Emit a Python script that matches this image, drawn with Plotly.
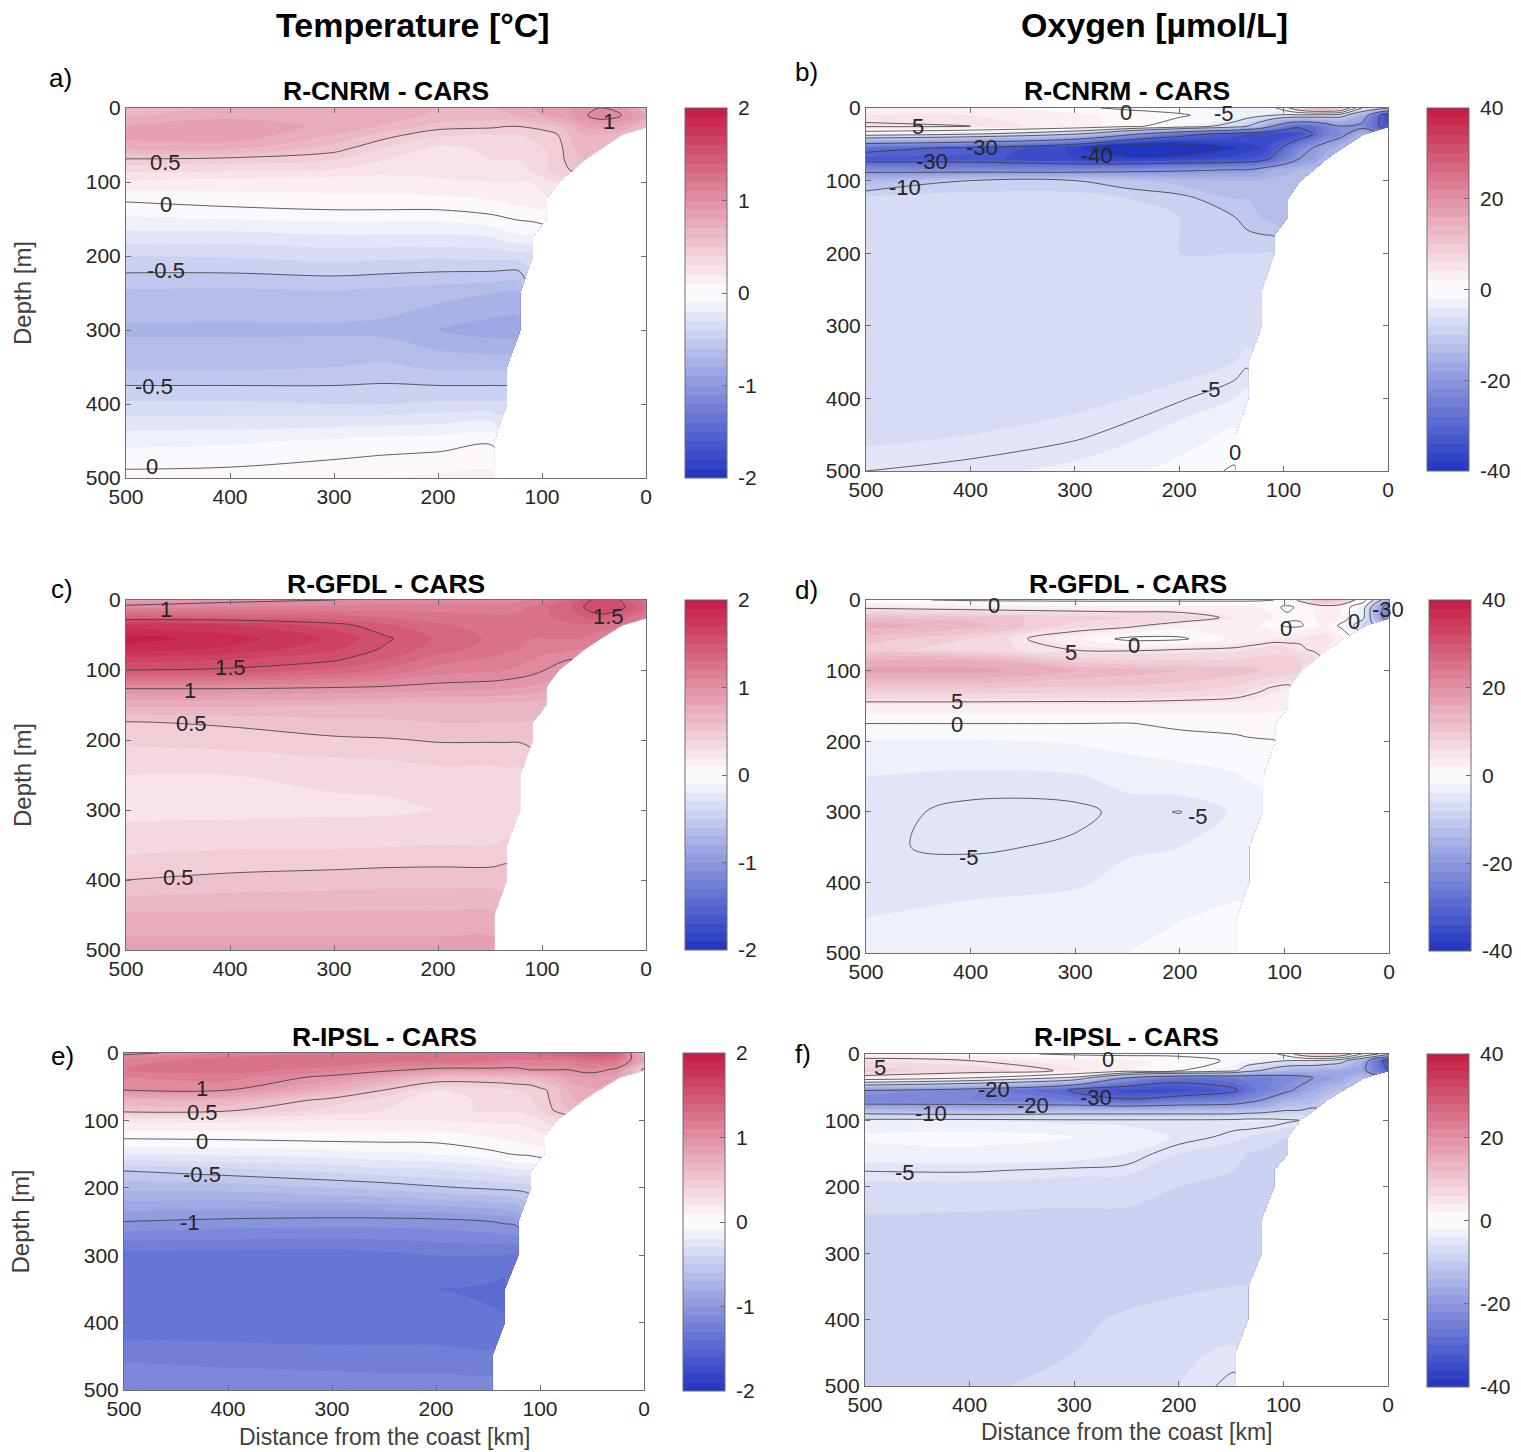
import plotly.graph_objects as go
import math

W, H = 1521, 1452
nan = math.nan

distance_km = [500, 400, 300, 250, 200, 147, 135, 122, 110, 97, 85, 72, 60, 45, 25, 0]
depth_m = [0, 10, 25, 36, 55, 70, 85, 100, 125, 150, 175, 200, 250, 300, 350, 400, 450, 500]

# Rows follow depth_m; a short row stops at the coast, the rest is land.
t_cnrm = [
 [.65,.72,.72,.72,.70,.70,.72,.75,.80,.85,.85,.90,.95,1.0,.95,.70],
 [.68,.78,.78,.75,.68,.66,.68,.72,.75,.80,.85,.90,.97,1.08,1.02,.80],
 [.80,.85,.78,.68,.55,.52,.50,.50,.52,.55,.60,.70,.80,.85,.80,.60],
 [.85,.88,.70,.55,.42,.40,.40,.40,.42,.45,.50,.62,.70,.70,.65],
 [.72,.72,.55,.38,.27,.32,.33,.33,.36,.40,.45,.58,.65,.65],
 [.48,.45,.40,.30,.20,.30,.30,.30,.34,.38,.45,.55,.60],
 [.32,.30,.28,.24,.27,.28,.28,.27,.30,.38,.47,.50],
 [.18,.15,.13,.13,.16,.20,.20,.20,.20,.25,.30],
 [.01,.05,.08,.08,.08,.10,.12,.14,.15,.18],
 [-.12,-.10,-.08,-.08,-.08,-.03,-.01,.01,.02,.04],
 [-.25,-.25,-.22,-.22,-.22,-.20,-.15,-.13,-.12],
 [-.40,-.39,-.36,-.37,-.38,-.36,-.36,-.35,-.35],
 [-.62,-.63,-.62,-.64,-.66,-.70,-.72,-.72],
 [-.72,-.72,-.72,-.73,-.80,-.85,-.85,-.85],
 [-.62,-.62,-.60,-.58,-.62,-.62,-.62],
 [-.38,-.38,-.40,-.40,-.38,-.38,-.38],
 [-.13,-.12,-.08,-.06,-.05,-.02],
 [.04,.05,.08,.10,.12,.13],
]
o_cnrm = [
 [3,3,.5,-.5,-1.5,-3,-3,-2,-1,4,10,14,15,12,-5,-10],
 [4,4,2.5,1.5,.5,-2,-3,-4,-5,-6,-6,-6,-7,-8,-15,-36],
 [5.5,5,3,1,-2,-7,-10,-14,-20,-26,-29,-28,-24,-20,-22,-34],
 [-3,-5,-10,-18,-27,-33,-34,-35,-36,-36,-34,-30,-25,-22,-15],
 [-28,-31,-37,-46,-45,-38.5,-37,-36,-33,-28,-23,-20,-17,-14],
 [-33,-33,-36,-37,-36,-35,-34,-33,-29,-24,-20,-18,-15],
 [-22,-23,-23,-22,-21,-20,-20,-18,-16,-15,-14,-13],
 [-14,-10,-10,-11.5,-13,-14,-14,-14,-13,-13,-12],
 [-7,-6.8,-6.8,-8,-9,-12,-12,-12,-13,-14],
 [-6.5,-6.5,-6.5,-7,-8,-10,-11,-12,-13,-14],
 [-6.5,-6.5,-6.5,-7,-8,-9,-9.6,-9.9,-10.1],
 [-7,-6.8,-6.5,-7,-8,-8,-8,-8,-8],
 [-7.8,-7.6,-7.6,-7.6,-7.6,-7.6,-7.6,-7.6],
 [-8,-7.8,-7.6,-7.6,-7.5,-7.2,-7,-7],
 [-8,-7.6,-7.6,-7.4,-7,-6,-5.3],
 [-7,-7,-6.5,-6,-5.2,-4,-3.5],
 [-6.5,-6,-5.3,-4.5,-3.2,-1.5],
 [-5,-4.5,-3.5,-2.5,-1.2,.3],
]
t_gfdl = [
 [.85,.95,1.0,1.02,1.05,1.05,1.05,1.08,1.1,1.15,1.25,1.3,1.45,1.55,1.5,1.2],
 [1.05,1.1,1.12,1.15,1.15,1.15,1.15,1.18,1.22,1.28,1.35,1.4,1.5,1.6,1.55,1.3],
 [1.40,1.40,1.35,1.3,1.25,1.22,1.22,1.22,1.25,1.28,1.32,1.35,1.4,1.45,1.38,1.15],
 [1.75,1.7,1.55,1.42,1.32,1.25,1.25,1.25,1.25,1.25,1.25,1.28,1.28,1.25,1.2],
 [1.95,1.85,1.68,1.52,1.38,1.28,1.25,1.22,1.2,1.2,1.2,1.2,1.2,1.15],
 [1.85,1.78,1.62,1.48,1.35,1.25,1.22,1.2,1.18,1.15,1.15,1.12,1.1],
 [1.65,1.6,1.52,1.4,1.25,1.18,1.15,1.12,1.1,1.05,1.02,1.0],
 [1.5,1.48,1.38,1.28,1.15,1.12,1.1,1.08,1.05,1.0,.97],
 [1.02,1.02,1.0,.98,.95,.93,.92,.9,.88,.85],
 [.72,.72,.7,.68,.66,.66,.66,.66,.66,.65],
 [.49,.52,.57,.58,.60,.60,.60,.60,.60],
 [.42,.44,.48,.49,.51,.51,.51,.51,.51],
 [.3,.3,.32,.33,.36,.36,.37,.37],
 [.27,.27,.28,.28,.3,.3,.31,.31],
 [.36,.38,.38,.39,.4,.4,.42],
 [.5,.53,.55,.56,.56,.56,.57],
 [.72,.72,.72,.72,.72,.72],
 [.85,.85,.85,.85,.85,.85],
]
o_gfdl = [
 [.5,-.3,-.5,-.5,-.5,-.5,-.5,-.3,0,2,6,10,13,10,2,-15],
 [4,3,2.5,2.5,2.5,2.5,2.5,2,.5,-.5,.5,2,3,2,-3,-25],
 [12,11,9,8,7.5,4,4,3,2,.5,.5,2,3,2,-4,-25],
 [15,13,7,6,3,3,3,2,.5,-.5,-.5,1.5,2.5,-1,-8],
 [11,8,2.5,-.8,-.5,2.5,3,3.5,4,4,4.5,5,5,3],
 [9,7,4.8,4.5,5,5.5,6,6.5,7,6.5,5.5,4.5,4],
 [14,14,9,8,8,8,8.5,9,9,9,8,7],
 [17,17,14,13,12,11,11,10,10,9,8],
 [10,10,9.5,9.5,9,7.5,6.5,5.5,4.5,4],
 [3.5,3.5,3.5,3.5,3.2,3,2.8,2.6,2.4,2.2],
 [0,0,0,-.1,.5,.8,1,1.2,1.2],
 [-2.2,-2.2,-1.8,-1.2,-.9,-.5,-.3,-.2,-.1],
 [-4,-4.4,-4.2,-3.4,-2.8,-2.2,-1.8,-1.4],
 [-4.6,-5.3,-5.3,-4.7,-5.05,-3.8,-3.6,-3.2],
 [-4.85,-5.2,-4.8,-4.2,-4,-3.4,-3],
 [-4.2,-4.2,-4.2,-3.6,-3.2,-2.6,-2.4],
 [-4,-3.8,-3.2,-2.6,-2.1,-1.5],
 [-3.8,-3.5,-2.8,-2,-1.2,-.8],
]
t_ipsl = [
 [.95,1.1,1.2,1.2,1.25,1.3,1.3,1.3,1.3,1.35,1.4,1.4,1.45,1.5,1.4,.6],
 [1.15,1.25,1.3,1.25,1.28,1.25,1.2,1.2,1.2,1.2,1.2,1.2,1.25,1.3,1.2,.8],
 [1.2,1.25,1.15,1.05,.95,.95,.95,.95,1.0,1.0,1.0,1.0,1.05,1.05,.95,.45],
 [1.1,1.15,.95,.8,.62,.6,.6,.62,.62,.7,.75,.85,.9,.9,.8],
 [1.0,1.0,.7,.5,.3,.36,.38,.4,.42,.48,.55,.7,.75,.78],
 [.68,.68,.45,.35,.22,.34,.35,.36,.38,.45,.55,.68,.72],
 [.55,.52,.36,.3,.26,.32,.32,.32,.34,.42,.52,.6],
 [.24,.22,.2,.2,.2,.22,.22,.22,.24,.3,.36],
 [.02,.03,.05,.05,.05,.1,.12,.14,.15,.18],
 [-.2,-.18,-.15,-.12,-.1,-.03,-.01,.01,.02,.05],
 [-.5,-.44,-.38,-.34,-.32,-.27,-.25,-.22,-.22],
 [-.67,-.66,-.6,-.57,-.52,-.48,-.47,-.46,-.45],
 [-1.0,-1.03,-1.05,-1.05,-1.04,-1.0,-.98,-.95],
 [-1.35,-1.35,-1.35,-1.33,-1.3,-1.3,-1.3,-1.3],
 [-1.38,-1.4,-1.4,-1.4,-1.4,-1.42,-1.45],
 [-1.38,-1.38,-1.38,-1.38,-1.38,-1.38,-1.38],
 [-1.22,-1.24,-1.26,-1.26,-1.26,-1.28],
 [-1.1,-1.12,-1.12,-1.14,-1.14,-1.14],
]
o_ipsl = [
 [3,1,-.5,-.8,-.8,-.8,-1,-1,-1,2,7,11,12,10,0,-8],
 [6,5,3,2.5,1.5,-.5,-2,-3,-4,-5,-5,-5,-6,-8,-15,-34],
 [9,7,4.5,2,.3,-4,-8,-10,-12,-14,-15,-15,-16,-16,-18,-30],
 [3,0,-6,-20,-27,-26,-25,-25,-24,-23,-22,-20,-19,-17,-12],
 [-20,-23,-31,-35,-35,-31,-28,-25,-23,-21,-19,-16,-14,-12],
 [-24,-24,-26,-29,-26,-24,-22,-20,-18,-15,-14,-13,-11],
 [-13,-14,-13,-13,-13,-13,-12.5,-12,-11,-10,-10,-9],
 [-4,-4,-4.5,-4.5,-4.5,-4.2,-3.8,-3.8,-4,-4.5,-5],
 [-1.5,-1,-2,-3,-4.2,-5.5,-6,-6.5,-7,-8],
 [-3,-2.8,-3,-4,-6,-7,-8,-8.5,-9,-9.8],
 [-4.9,-4.8,-5.3,-5.5,-7.5,-8,-8.5,-9,-9.5],
 [-6.5,-6.5,-7,-7,-8,-8.5,-8.5,-8.5,-9],
 [-8.3,-8.5,-8.6,-8.6,-8.6,-8.6,-8.5,-8.5],
 [-8.6,-9.6,-9.6,-8.8,-8.6,-8.6,-8.6,-8.6],
 [-8.6,-8.8,-8.8,-8.5,-8.3,-8,-8],
 [-8.3,-8.3,-8.3,-7.8,-7.3,-7,-7],
 [-8.3,-8.3,-8,-7.2,-6.3,-5.7],
 [-8.3,-8.3,-7.5,-6.8,-6,-4.5],
]

panel_titles = ["R-CNRM - CARS", "R-CNRM - CARS", "R-GFDL - CARS", "R-GFDL - CARS", "R-IPSL - CARS", "R-IPSL - CARS"]
panel_letters = ["a)", "b)", "c)", "d)", "e)", "f)"]
panel_data = [t_cnrm, o_cnrm, t_gfdl, o_gfdl, t_ipsl, o_ipsl]
panel_limits = [2, 40, 2, 40, 2, 40]
x_ticks = [500, 400, 300, 200, 100, 0]
y_ticks = [0, 100, 200, 300, 400, 500]

# plot box (left, right, top, bottom) and colour bar (left, top, bottom) in page pixels
boxes = [(126,646,108,478), (866,1388,108,471), (126,646,600,950),
         (866,1389,600,953), (124,644,1053,1390), (865,1388,1054,1386)]
bars = [(685,108,478), (1427,108,471), (685,600,950), (1429,600,951), (683,1053,1391), (1427,1054,1387)]
letter_pos = [(60,78), (806,72), (62,589), (806,590), (62,1056), (803,1054)]
title_y = [91, 91, 584, 584, 1037, 1037]
ylabel_x = [22, None, 22, None, 20, None]
xlabel_y = [None, None, None, None, 1437, 1432]

# (panel, distance, depth, text)
line_labels = [
 (0,462,73,"0.5"),(0,462,130,"0"),(0,462,220,"-0.5"),(0,473,377,"-0.5"),(0,475,485,"0"),(0,36,18,"1"),
 (1,450,26,"5"),(1,251,6,"0"),(1,157,8,"-5"),(1,389,55,"-30"),(1,437,74,"-30"),(1,279,66,"-40"),(1,463,109,"-10"),(1,170,388,"-5"),(1,147,475,"0"),
 (2,462,14,"1"),(2,400,97,"1.5"),(2,438,129,"1"),(2,437,177,"0.5"),(2,450,397,"0.5"),(2,36,23,"1.5"),
 (3,378,8,"0"),(3,304,74,"5"),(3,244,65,"0"),(3,98,41,"0"),(3,33,31,"0"),(3,1,14,"-30"),(3,413,144,"5"),(3,413,176,"0"),(3,402,365,"-5"),(3,183,307,"-5"),
 (4,425,52,"1"),(4,425,89,"0.5"),(4,425,131,"0"),(4,425,181,"-0.5"),(4,437,251,"-1"),
 (5,486,20,"5"),(5,268,9,"0"),(5,377,53,"-20"),(5,339,77,"-20"),(5,279,66,"-30"),(5,437,89,"-10"),(5,462,178,"-5"),
]

colors = [[0, "#2234c2"], [.25, "#8c98de"], [.5, "#ffffff"], [.75, "#e090a4"], [1, "#c41a42"]]
ink = "#262626"
frame = "#6e6e6e"
font = "Liberation Sans"

def fx(px):
    return px / W

def fy(py):
    return 1 - py / H

fig = go.Figure()
layout = dict(width=W, height=H, margin=dict(l=0, r=0, t=0, b=0, autoexpand=False), paper_bgcolor="white",
              plot_bgcolor="white", showlegend=False, font=dict(family=font, size=21, color=ink))
annotations = []

def note(px, py, text, size, color=ink, bold=False, angle=0):
    annotations.append(dict(xref="paper", yref="paper", x=fx(px), y=fy(py), xanchor="center", yanchor="middle",
        text=f"<b>{text}</b>" if bold else text, showarrow=False, textangle=angle,
        font=dict(family=font, size=size, color=color)))

def filled(rows):
    return [r + [nan]*(len(distance_km)-len(r)) for r in rows]

for i, rows in enumerate(panel_data):
    n = "" if i == 0 else str(i+1)
    lim = panel_limits[i]
    l, r, t, b = boxes[i]
    z = filled(rows)
    bl, bt, bb = bars[i]
    fig.add_trace(go.Contour(x=distance_km, y=depth_m, z=z, xaxis=f"x{n}", yaxis=f"y{n}",
        colorscale=colors, zmin=-lim, zmax=lim, connectgaps=False, hoverinfo="skip",
        contours=dict(coloring="fill", start=-lim, end=lim, size=lim/20, showlines=False),
        line=dict(width=0),
        colorbar=dict(x=fx(bl), xanchor="left", xpad=0, ypad=0, y=fy(bt), yanchor="top", thickness=42,
            thicknessmode="pixels", lenmode="pixels", len=bb-bt, tickvals=[-lim,-lim/2,0,lim/2,lim],
            ticktext=["\u00a0" + str(int(v)) for v in (-lim,-lim/2,0,lim/2,lim)], ticks="inside", ticklen=5,
            tickcolor=frame, outlinecolor=frame, outlinewidth=1, tickfont=dict(size=21, color=ink, family=font))))
    line_sets = [dict(start=-2, end=2, size=.5)] if lim == 2 else [dict(start=-40, end=0, size=10), dict(start=-5, end=5, size=10)]
    for s in line_sets:
        fig.add_trace(go.Contour(x=distance_km, y=depth_m, z=z, xaxis=f"x{n}", yaxis=f"y{n}",
            showscale=False, connectgaps=False, hoverinfo="skip",
            contours=dict(coloring="none", **s), line=dict(color="#3a3a3a", width=0.8)))
    axis = dict(showgrid=False, zeroline=False, showline=True, linecolor=frame, linewidth=1, mirror="ticks",
                ticks="inside", ticklen=5, tickcolor=frame, tickfont=dict(size=21, color=ink, family=font))
    layout[f"xaxis{n}"] = dict(axis, domain=[fx(l), fx(r)], range=[500, 0], tickvals=x_ticks, anchor=f"y{n}")
    layout[f"yaxis{n}"] = dict(axis, domain=[fy(b), fy(t)], range=[500, 0], tickvals=y_ticks, anchor=f"x{n}")
    note((l+r)/2, title_y[i], panel_titles[i], 26.5, "#000000", bold=True)
    note(*letter_pos[i], panel_letters[i], 26, "#000000")
    if ylabel_x[i]:
        note(ylabel_x[i], (t+b)/2, "Depth [m]", 24, "#404040", angle=-90)
    if xlabel_y[i]:
        note((l+r)/2, xlabel_y[i], "Distance from the coast [km]", 23, "#404040")

for p, d, m, text in line_labels:
    n = "" if p == 0 else str(p+1)
    annotations.append(dict(xref=f"x{n}", yref=f"y{n}", x=d, y=m, text=text, showarrow=False,
                            font=dict(family=font, size=22, color=ink)))

note(413, 25, "Temperature [°C]", 34, "#000000", bold=True)
note(1154, 25, "Oxygen [µmol/L]", 34, "#000000", bold=True)

fig.update_layout(**layout, annotations=annotations)
fig.write_html("out.html", config={"displayModeBar": False},
               post_script="document.body.style.margin='0';document.body.style.overflow='hidden';")
